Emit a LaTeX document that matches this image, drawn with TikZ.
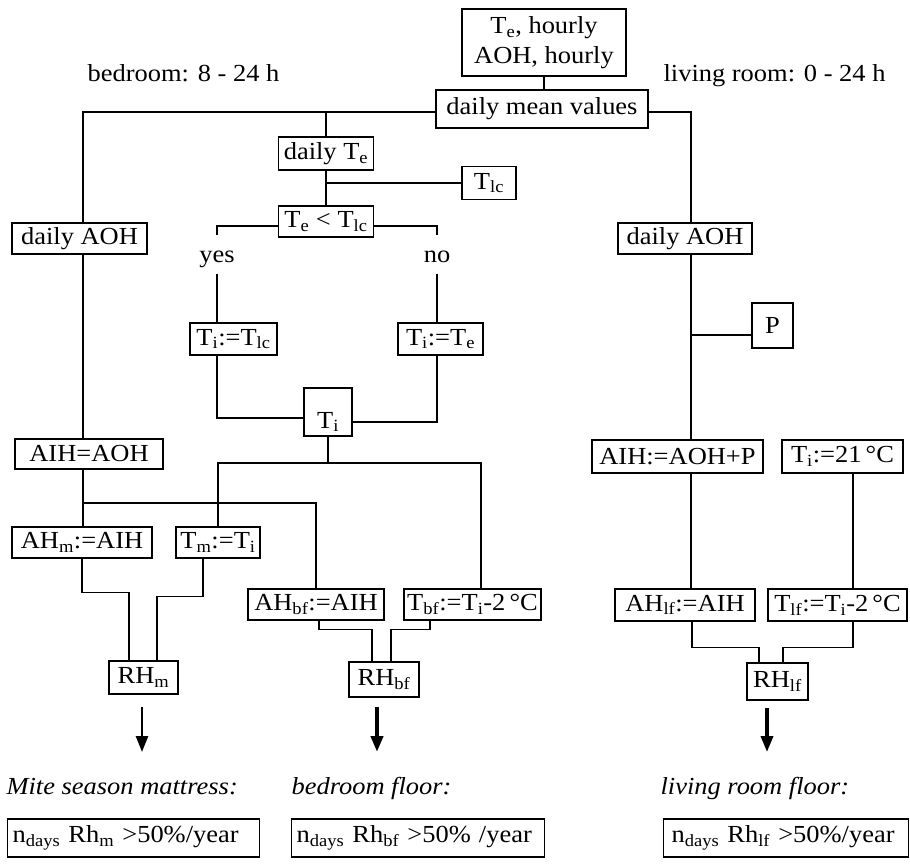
\documentclass[tikz,border=0pt]{standalone}
\usepackage{fontspec}
\setmainfont{Liberation Serif}[FakeStretch=1.08]
\usetikzlibrary{arrows.meta,calc}
\begin{document}
\begin{tikzpicture}[x=1pt,y=-1pt,
  font=\fontsize{24.5}{30}\selectfont,
  line width=1.1pt,
  bx/.style 2 args={draw, inner sep=0pt, minimum width=#1pt, minimum height=#2pt},
  plain/.style={inner sep=0pt},
  branch/.style={anchor=base, inner sep=0pt, text height=26pt, text depth=11pt},
  lab/.style={anchor=base west, inner sep=0pt, font=\fontsize{24.5}{30}\selectfont\itshape},
  res/.style={draw, anchor=west, align=left, minimum height=38pt},
  big/.style={-{Triangle[length=16pt,width=12pt]}}]
\useasboundingbox (0,0) rectangle (910,865);

% top
\node[bx={164}{67}, align=center] (top) at (544,42.5) {T\textsubscript{e}, hourly\\AOH, hourly};
\node[plain, anchor=base west] (lbB) at (87,81) {bedroom: 8 - 24 h};
\node[plain, anchor=base west] (lbL) at (663,81) {living room: 0 - 24 h};
\node[bx={212}{38}] (dmv) at (542,109) {daily mean values};

% middle column
\node[bx={95}{33}] (dT) at (326,153.5) {daily T\textsubscript{e}};
\node[bx={54}{33}] (Tlc) at (489,183) {T\textsubscript{lc}};
\node[bx={95}{31}] (tlt) at (326,221.5) {T\textsubscript{e} < T\textsubscript{lc}};
\node[branch] (yes) at (217,262) {yes};
\node[branch] (no) at (437,262) {no};
\node[bx={87}{32}] (Tilc) at (233.5,339) {T\textsubscript{i}:=T\textsubscript{lc}};
\node[bx={85}{32}] (Tie) at (440.5,339) {T\textsubscript{i}:=T\textsubscript{e}};
\node[draw, inner sep=0pt, minimum width=48pt, text height=40pt, text depth=8pt] (Ti) at (328,412) {T\textsubscript{i}};

% left column
\node[bx={135}{31}] (dAOHL) at (79.5,238.5) {daily AOH};
\node[bx={148}{30}] (AIH) at (89,454) {AIH=AOH};
\node[bx={140}{31}] (AHm) at (82,542.5) {AH\textsubscript{m}:=AIH};
\node[bx={84}{31}] (Tm) at (218,542.5) {T\textsubscript{m}:=T\textsubscript{i}};
\node[bx={136}{31}] (AHbf) at (316,604.5) {AH\textsubscript{bf}:=AIH};
\node[bx={137}{31}] (Tbf) at (472.5,604.5) {T\textsubscript{bf}:=T\textsubscript{i}-2\,°C};
\node[bx={69}{33}] (RHm) at (143.5,677.5) {RH\textsubscript{m}};
\node[bx={70}{35}] (RHbf) at (384,679.5) {RH\textsubscript{bf}};

% right column
\node[bx={134}{31}] (dAOHR) at (685,238.5) {daily AOH};
\node[bx={41}{45}] (P) at (772.5,325.5) {P};
\node[bx={171}{33}] (AIHP) at (677.5,456.5) {AIH:=AOH+P};
\node[bx={121}{33}] (Ti21) at (842.5,456.5) {T\textsubscript{i}:=21\,°C};
\node[bx={140}{32}] (AHlf) at (685,605) {AH\textsubscript{lf}:=AIH};
\node[bx={139}{32}] (Tlf) at (837.5,605) {T\textsubscript{lf}:=T\textsubscript{i}-2\,°C};
\node[bx={61}{37}] (RHlf) at (777.5,681.5) {RH\textsubscript{lf}};

% bottom labels and results
\node[lab] (l1) at (6,794) {Mite season mattress:};
\node[lab] (l2) at (291,794) {bedroom floor:};
\node[lab] (l3) at (660,794) {living room floor:};
\node[res, inner xsep=5pt, text width=242pt] (b1) at (7,838) {n\textsubscript{days} Rh\textsubscript{m} >50\%/year};
\node[res, inner xsep=5pt, text width=243pt] (b2) at (291,838) {n\textsubscript{days} Rh\textsubscript{bf} >50\% /year};
\node[res, inner xsep=8pt, text width=229pt] (b3) at (663,838) {n\textsubscript{days} Rh\textsubscript{lf} >50\%/year};

% junctions
\coordinate (jL) at (83,112);
\coordinate (jR) at (691,112);
\coordinate (jL2) at (83,503);
\coordinate (jT) at (328,463);
\coordinate (pIn) at ($(P.west)+(0,9.5)$);

% connectors top
\draw (top.south) -- (top.south |- dmv.north);
\draw (dmv.west |- jL) -- (jL) -- (jL |- dAOHL.north);
\draw (dT.north |- jL) -- (dT.north);
\draw (dmv.east |- jR) -- (jR) -- (jR |- dAOHR.north);

% middle
\draw (dT.south) -- (tlt.north);
\draw (Tlc.west) -- (Tlc.west -| dT.south);
\draw ($(tlt.west)+(0,4.5)$) -| (yes.north);
\draw ($(tlt.east)+(0,4.5)$) -| (no.north);
\draw (yes.south) -- (yes.south |- Tilc.north);
\draw (no.south) -- (no.south |- Tie.north);
\draw (yes.south |- Tilc.south) |- ($(Ti.west)+(0,6)$);
\draw (no.south |- Tie.south) |- ($(Ti.east)+(0,10)$);
\draw (Ti.south) -- (jT);
\draw (Tm.north) |- (jT);
\draw (jT) -| ($(Tbf.north)+(8.5,0)$);

% left
\draw (jL |- dAOHL.south) -- (jL |- AIH.north);
\draw (jL |- AIH.south) -- (jL |- AHm.north);
\draw (jL2) -| (AHbf.north);
\draw (AHm.south) |- ($(RHm.north)+(-14.5,-68)$) -- ($(RHm.north)+(-14.5,0)$);
\draw ($(Tm.south)+(-15,0)$) |- ($(RHm.north)+(13.5,-64)$) -- ($(RHm.north)+(13.5,0)$);
\draw ($(AHbf.south)+(3,0)$) |- ($(RHbf.north)+(-12,-32)$) -- ($(RHbf.north)+(-12,0)$);
\draw ($(Tbf.south)+(-42.5,0)$) |- ($(RHbf.north)+(7,-32)$) -- ($(RHbf.north)+(7,0)$);

% right
\draw (jR |- dAOHR.south) -- (jR |- AIHP.north);
\draw (pIn) -- (pIn -| jR);
\draw (jR |- AIHP.south) -- (jR |- AHlf.north);
\draw ($(Ti21.south)+(10.5,0)$) -- ($(Tlf.north)+(15.5,0)$);
\draw ($(AHlf.south)+(7,0)$) |- ($(RHlf.north)+(-18.5,-15)$) -- ($(RHlf.north)+(-18.5,0)$);
\draw ($(Tlf.south)+(15.5,0)$) |- ($(RHlf.north)+(5.5,-15)$) -- ($(RHlf.north)+(5.5,0)$);

% arrows
\coordinate (a1s) at (142,707); \coordinate (a1e) at (142,752);
\coordinate (a2s) at (377,707); \coordinate (a2e) at (377,752);
\coordinate (a3s) at (767,708); \coordinate (a3e) at (767,752);
\draw[line width=2.5pt, big] (a1s) -- (a1e);
\draw[line width=4.5pt, big] (a2s) -- (a2e);
\draw[line width=3.5pt, big] (a3s) -- (a3e);
\end{tikzpicture}
\end{document}
